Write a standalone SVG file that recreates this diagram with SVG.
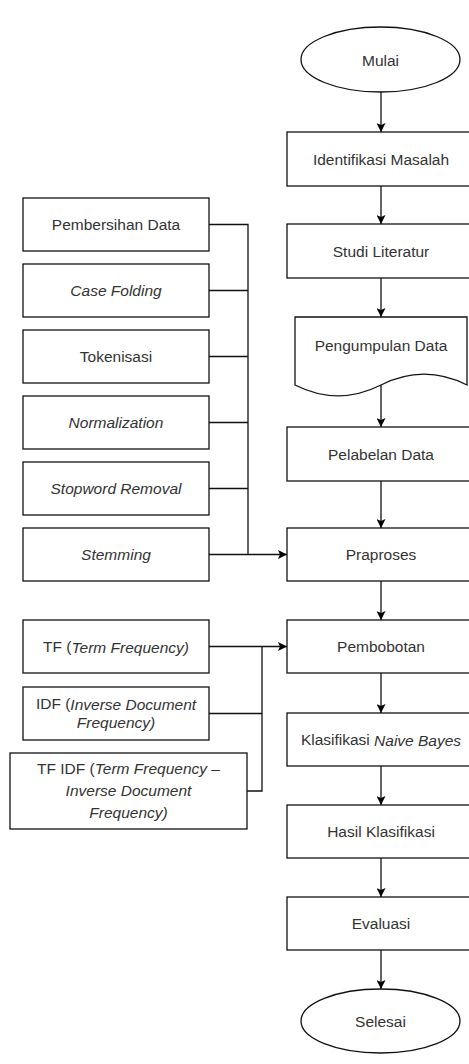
<svg xmlns="http://www.w3.org/2000/svg" width="469" height="1064" viewBox="0 0 469 1064">
<defs>
<marker id="arr" viewBox="0 0 9 9" refX="9" refY="4.5" markerWidth="9" markerHeight="9" markerUnits="userSpaceOnUse" orient="auto">
<path d="M0,0 L9,4.5 L0,9 L2,4.5 Z" fill="#000"/>
</marker>
<style>
.b{fill:#fff;stroke:#111;stroke-width:1.3}
.t{font-family:"Liberation Sans",Arial,sans-serif;font-size:15.5px;fill:#333;text-anchor:middle;dominant-baseline:central}
.i{font-style:italic}
.c{fill:none;stroke:#111;stroke-width:1.3}
</style>
</defs>
<rect width="469" height="1064" fill="#fff"/>

<g id="mulai"><ellipse class="b" cx="380.5" cy="59.5" rx="79.5" ry="32.5"/><text class="t" x="380.5" y="60">Mulai</text></g>
<g id="identifikasi"><rect class="b" x="287" y="132" width="188" height="54"/><text class="t" x="381" y="159">Identifikasi Masalah</text></g>
<g id="studi"><rect class="b" x="287" y="224" width="188" height="54"/><text class="t" x="381" y="251">Studi Literatur</text></g>
<g id="pengumpulan"><path class="b" d="M295,317 H467 V385 Q424,363.4 381,385 Q338,406.6 295,385 Z"/><text class="t" x="381" y="345">Pengumpulan Data</text></g>
<g id="pelabelan"><rect class="b" x="287" y="427" width="188" height="54"/><text class="t" x="381" y="454">Pelabelan Data</text></g>
<g id="praproses"><rect class="b" x="287" y="528" width="188" height="53"/><text class="t" x="381" y="554.5">Praproses</text></g>
<g id="pembobotan"><rect class="b" x="287" y="620" width="188" height="53"/><text class="t" x="381" y="646.5">Pembobotan</text></g>
<g id="klasifikasi"><rect class="b" x="287" y="713" width="188" height="53"/><text class="t" x="381" y="739.5">Klasifikasi <tspan class="i">Naive Bayes</tspan></text></g>
<g id="hasil"><rect class="b" x="287" y="805" width="188" height="53"/><text class="t" x="381" y="831.5">Hasil Klasifikasi</text></g>
<g id="evaluasi"><rect class="b" x="287" y="897" width="188" height="53"/><text class="t" x="381" y="923.5">Evaluasi</text></g>
<g id="selesai"><ellipse class="b" cx="380.5" cy="1021" rx="79.5" ry="32"/><text class="t" x="380.5" y="1021">Selesai</text></g>

<g id="pembersihan"><rect class="b" x="23" y="198" width="186" height="53"/><text class="t" x="116" y="224.5">Pembersihan Data</text></g>
<g id="casefolding"><rect class="b" x="23" y="264" width="186" height="53"/><text class="t i" x="116" y="290.5">Case Folding</text></g>
<g id="tokenisasi"><rect class="b" x="23" y="330" width="186" height="53"/><text class="t" x="116" y="356.5">Tokenisasi</text></g>
<g id="normalization"><rect class="b" x="23" y="396" width="186" height="53"/><text class="t i" x="116" y="422.5">Normalization</text></g>
<g id="stopword"><rect class="b" x="23" y="462" width="186" height="53"/><text class="t i" x="116" y="488.5">Stopword Removal</text></g>
<g id="stemming"><rect class="b" x="23" y="528" width="186" height="53"/><text class="t i" x="116" y="554.5">Stemming</text></g>

<g id="tf"><rect class="b" x="23" y="620" width="186" height="53"/><text class="t" x="116" y="646.5">TF (<tspan class="i">Term Frequency)</tspan></text></g>
<g id="idf"><rect class="b" x="23" y="687" width="186" height="53"/><text class="t" x="116" y="703.5">IDF (<tspan class="i">Inverse Document</tspan></text><text class="t i" x="116" y="722.5">Frequency)</text></g>
<g id="tfidf"><rect class="b" x="10" y="753" width="237" height="76"/><text class="t" x="128.5" y="768">TF IDF (<tspan class="i">Term Frequency –</tspan></text><text class="t i" x="128.5" y="790">Inverse Document</text><text class="t i" x="128.5" y="812">Frequency)</text></g>

<g id="connectors">
<line class="c" x1="381" y1="92" x2="381" y2="132" marker-end="url(#arr)"/>
<line class="c" x1="381" y1="186" x2="381" y2="224" marker-end="url(#arr)"/>
<line class="c" x1="381" y1="278" x2="381" y2="317" marker-end="url(#arr)"/>
<line class="c" x1="381" y1="385" x2="381" y2="427" marker-end="url(#arr)"/>
<line class="c" x1="381" y1="481" x2="381" y2="528" marker-end="url(#arr)"/>
<line class="c" x1="381" y1="581" x2="381" y2="620" marker-end="url(#arr)"/>
<line class="c" x1="381" y1="673" x2="381" y2="713" marker-end="url(#arr)"/>
<line class="c" x1="381" y1="766" x2="381" y2="805" marker-end="url(#arr)"/>
<line class="c" x1="381" y1="858" x2="381" y2="897" marker-end="url(#arr)"/>
<line class="c" x1="381" y1="950" x2="381" y2="989" marker-end="url(#arr)"/>

<path class="c" d="M209,224.5 H248 V554.5"/>
<path class="c" d="M209,290.5 H248"/>
<path class="c" d="M209,356.5 H248"/>
<path class="c" d="M209,422.5 H248"/>
<path class="c" d="M209,488.5 H248"/>
<line class="c" x1="209" y1="554.5" x2="287" y2="554.5" marker-end="url(#arr)"/>

<line class="c" x1="209" y1="646.5" x2="287" y2="646.5" marker-end="url(#arr)"/>
<path class="c" d="M262,646.5 V791 H247"/>
<path class="c" d="M209,713.5 H262"/>
</g>
</svg>
